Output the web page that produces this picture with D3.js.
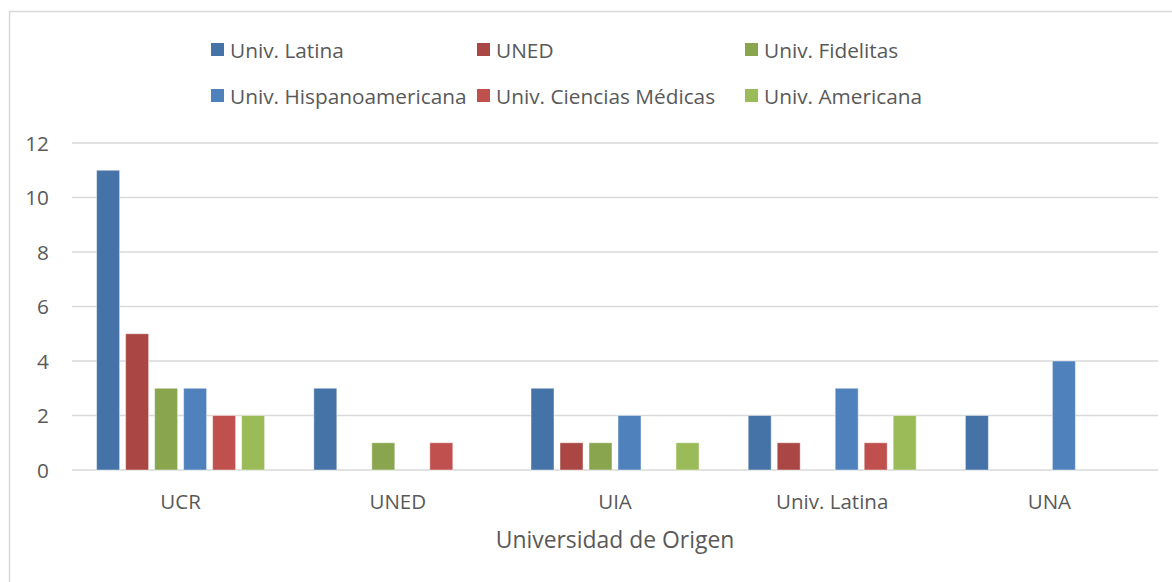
<!DOCTYPE html>
<html><head><meta charset="utf-8">
<script src="https://cdn.jsdelivr.net/npm/d3@7"></script>
<style>
html,body{margin:0;padding:0;background:#fff;}
svg{display:block;font-family:"Open Sans",sans-serif;}
</style></head>
<body>
<svg id="c" width="1172" height="582"></svg>
<script>
const categories = ["UCR", "UNED", "UIA", "Univ. Latina", "UNA"];
const seriesNames = ["Univ. Latina", "UNED", "Univ. Fidelitas", "Univ. Hispanoamericana", "Univ. Ciencias Médicas", "Univ. Americana"];
const univLatina = [11, 3, 3, 2, 2];
const uned = [5, 0, 1, 1, 0];
const univFidelitas = [3, 1, 1, 0, 0];
const univHispanoamericana = [3, 0, 2, 3, 4];
const univCienciasMedicas = [2, 1, 0, 1, 0];
const univAmericana = [2, 0, 1, 2, 0];
const yTicks = [0, 2, 4, 6, 8, 10, 12];
const colors = ["#4572A7", "#AA4643", "#89A54E", "#4F81BD", "#C0504D", "#9BBB59"];
const axisTitle = "Universidad de Origen";

const seriesValues = [univLatina, uned, univFidelitas, univHispanoamericana, univCienciasMedicas, univAmericana];

(function () {
const svg = d3.select("#c");
const textColor = "#595959";
const grid = "#d9d9d9";

// chart border
svg.append("rect").attr("x", 9.5).attr("y", 11.5).attr("width", 1200).attr("height", 620)
  .attr("fill", "none").attr("stroke", grid).attr("stroke-width", 1.5);

const pLeft = 72, pRight = 1158, pTop = 143, pBottom = 470;
const x0 = d3.scaleBand().domain(categories).range([pLeft, pRight]).paddingInner(0.2265).paddingOuter(0.1133);
const x1 = d3.scaleBand().domain(seriesNames).range([0, x0.bandwidth()]).paddingInner(0.207).paddingOuter(0);
const y = d3.scaleLinear().domain([0, 12]).range([pBottom, pTop]);

// gridlines
svg.append("g").selectAll("line").data(yTicks).join("line")
  .attr("x1", pLeft).attr("x2", pRight)
  .attr("y1", d => y(d)).attr("y2", d => y(d))
  .attr("stroke", grid).attr("stroke-width", 1.5);

// y axis labels
const yAxis = d3.axisLeft(y).tickValues(yTicks).tickSize(0).tickPadding(0);
const gy = svg.append("g").attr("transform", `translate(49,0)`).call(yAxis);
gy.select(".domain").remove();
gy.selectAll("text").attr("fill", textColor).style("font-size", "20.8px").style("font-family", "'Open Sans',sans-serif").attr("dy", "0.35em");

// bars
const groups = svg.append("g").selectAll("g").data(categories).join("g")
  .attr("transform", d => `translate(${x0(d)},0)`);
groups.selectAll("rect").data((c, ci) => seriesNames.map((s, si) => ({s, si, v: seriesValues[si][ci]})).filter(d => d.v > 0))
  .join("rect")
  .attr("x", d => x1(d.s)).attr("width", x1.bandwidth())
  .attr("y", d => y(d.v)).attr("height", d => y(0) - y(d.v))
  .attr("fill", d => colors[d.si])
  .attr("stroke", "rgba(255,255,255,0.45)").attr("stroke-width", 1);

// x axis labels
const xAxis = d3.axisBottom(x0).tickSize(0).tickPadding(0);
const gx = svg.append("g").attr("transform", `translate(0,${pBottom})`).call(xAxis);
gx.select(".domain").remove();
gx.selectAll("text").attr("fill", textColor).style("font-size", "20.5px").style("font-family", "'Open Sans',sans-serif").attr("y", 39).attr("dy", 0);

// axis title
svg.append("text").attr("x", (pLeft + pRight) / 2).attr("y", 548).attr("text-anchor", "middle")
  .attr("fill", textColor).style("font-size", "22.9px").text(axisTitle);

// legend
const legX = [211, 477, 745];
const legY = [50, 96];
const leg = svg.append("g").selectAll("g").data(seriesNames).join("g")
  .attr("transform", (d, i) => `translate(${legX[i % 3]},${legY[Math.floor(i / 3)]})`);
leg.append("rect").attr("x", 0).attr("y", -7).attr("width", 13).attr("height", 13).attr("fill", (d, i) => colors[i]);
leg.append("text").attr("x", 19).attr("y", 7.5).attr("fill", textColor).style("font-size", "20.8px").text(d => d);
})();
</script>
</body></html>
